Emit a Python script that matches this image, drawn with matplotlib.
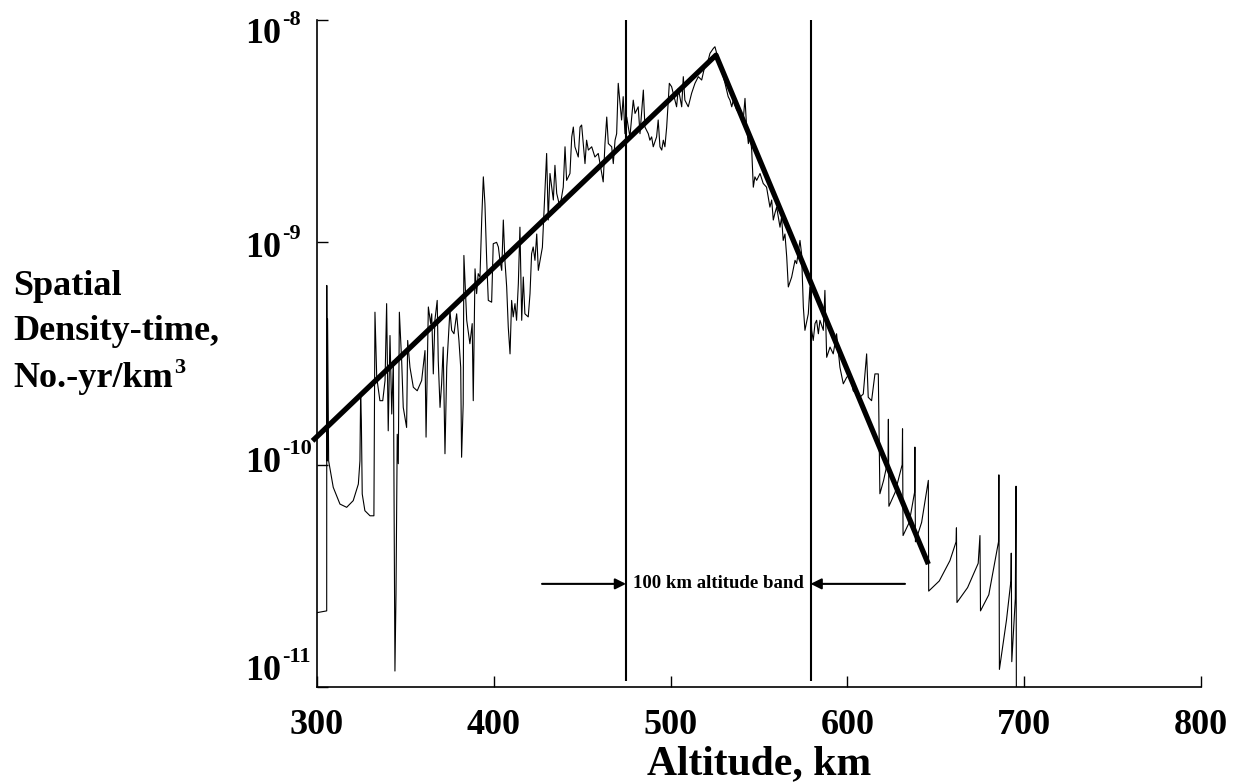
import matplotlib.pyplot as plt

# spatial density-time curve
altitude_km = [
    300.0, 305.5, 305.55, 305.8, 306.0, 306.6, 309.2, 313.0, 316.8, 320.5,
    323.4, 324.3, 324.7, 325.1, 325.6, 327.1, 330.0, 332.2, 332.8, 333.8,
    335.6, 337.2, 338.5, 339.4, 340.3, 341.3, 342.3, 343.2, 344.1, 344.7,
    345.4, 346.0, 346.6, 347.9, 348.8, 350.7, 351.3, 352.6, 354.5, 356.7,
    359.2, 361.1, 361.7, 363.0, 364.3, 364.9, 365.8, 366.7, 368.0, 368.6,
    369.6, 370.5, 371.4, 372.4, 373.4, 375.2, 376.2, 377.5, 379.0, 380.3,
    381.3, 381.8, 382.7, 383.1, 384.7, 386.5, 387.8, 388.4, 389.4, 390.3,
    391.2, 392.2, 393.2, 394.1, 395.0, 396.0, 396.9, 398.8, 399.7, 401.6,
    402.6, 403.5, 404.5, 405.4, 406.3, 407.3, 408.2, 409.2, 410.1, 411.0,
    412.0, 412.9, 413.9, 414.8, 415.8, 416.7, 417.6, 419.5, 420.5, 421.4,
    422.3, 423.3, 424.3, 425.2, 427.5, 429.9, 430.8, 431.8, 433.7, 434.6,
    435.6, 437.4, 439.3, 440.3, 441.2, 443.1, 444.1, 445.0, 445.9, 447.8,
    448.8, 449.7, 450.6, 451.6, 452.5, 453.5, 455.4, 457.2, 459.1, 460.1,
    461.9, 462.9, 463.9, 464.8, 466.7, 467.6, 468.6, 469.5, 470.4, 471.4,
    472.3, 473.2, 474.2, 475.2, 477.0, 478.9, 479.9, 481.7, 482.7, 484.6,
    485.5, 487.4, 488.3, 489.3, 490.2, 492.1, 493.0, 494.0, 495.0, 495.9,
    496.8, 497.8, 498.7, 499.3, 500.6, 501.5, 503.4, 504.4, 506.3, 507.2,
    508.1, 510.0, 511.9, 513.8, 515.7, 517.6, 519.5, 521.3, 522.3, 524.2,
    525.1, 526.1, 527.9, 529.8, 530.8, 531.7, 532.6, 533.6, 534.6, 535.5,
    537.4, 539.3, 541.1, 542.1, 543.0, 544.0, 544.9, 545.9, 546.8, 547.7,
    548.7, 550.6, 552.4, 554.3, 556.2, 557.2, 558.1, 559.0, 560.0, 561.9,
    562.8, 563.7, 564.7, 565.7, 566.6, 568.5, 570.4, 571.3, 573.2, 574.1,
    575.1, 576.0, 577.9, 578.8, 579.8, 580.7, 581.7, 582.6, 583.6, 584.5,
    586.4, 587.3, 588.3, 590.2, 592.0, 593.9, 595.8, 597.7, 599.6, 601.5,
    603.3, 605.2, 607.1, 609.0, 610.9, 611.8, 613.7, 615.6, 617.5, 618.4,
    620.5, 623.0, 623.2, 623.5, 627.0, 631.0, 631.2, 631.5, 635.0, 638.0,
    638.2, 638.5, 642.0, 645.8, 646.0, 652.0, 658.0, 661.5, 661.7, 662.0,
    668.0, 674.0, 675.0, 675.3, 680.0, 685.5, 685.7, 686.0, 690.0, 692.5,
    692.7, 693.0, 695.0, 695.4, 695.6,
]
density = [
    2.16e-11, 2.20e-11, 6.40e-10, 1.04e-10, 4.53e-10, 1.04e-10, 7.91e-11, 6.65e-11, 6.43e-11, 6.89e-11,
    8.18e-11, 1.04e-10, 2.08e-10, 1.58e-10, 7.38e-11, 6.21e-11, 5.89e-11, 5.89e-11, 4.85e-10, 2.47e-10,
    1.94e-10, 1.94e-10, 2.39e-10, 5.30e-10, 1.42e-10, 3.81e-10, 1.69e-10, 2.94e-10, 1.18e-11, 2.62e-11,
    1.37e-10, 1.01e-10, 4.85e-10, 2.94e-10, 1.81e-10, 1.47e-10, 3.62e-10, 2.74e-10, 2.23e-10, 2.15e-10,
    2.39e-10, 3.26e-10, 1.33e-10, 5.12e-10, 4.31e-10, 4.77e-10, 2.56e-10, 4.46e-10, 5.48e-10, 2.94e-10,
    1.81e-10, 2.31e-10, 3.38e-10, 1.12e-10, 2.74e-10, 4.94e-10, 4.02e-10, 3.88e-10, 4.77e-10, 3.62e-10,
    2.74e-10, 1.08e-10, 1.87e-10, 8.73e-10, 4.46e-10, 3.50e-10, 4.31e-10, 1.94e-10, 7.60e-10, 5.88e-10,
    7.23e-10, 6.98e-10, 1.28e-09, 1.97e-09, 1.49e-09, 8.30e-10, 5.48e-10, 5.38e-10, 9.86e-10, 1.00e-09,
    9.53e-10, 8.30e-10, 7.48e-10, 1.26e-09, 8.30e-10, 6.30e-10, 4.16e-10, 3.15e-10, 5.48e-10, 4.62e-10,
    5.30e-10, 4.46e-10, 6.52e-10, 1.17e-09, 4.46e-10, 6.98e-10, 4.77e-10, 4.62e-10, 5.88e-10, 8.89e-10,
    9.53e-10, 8.30e-10, 1.09e-09, 7.48e-10, 9.50e-10, 2.51e-09, 1.26e-09, 2.04e-09, 1.55e-09, 2.22e-09,
    1.66e-09, 1.44e-09, 1.77e-09, 2.69e-09, 1.90e-09, 2.04e-09, 2.98e-09, 3.30e-09, 2.69e-09, 2.42e-09,
    3.30e-09, 3.37e-09, 2.78e-09, 2.26e-09, 2.88e-09, 2.60e-09, 2.69e-09, 2.42e-09, 2.51e-09, 2.26e-09,
    1.87e-09, 2.78e-09, 3.66e-09, 2.78e-09, 2.69e-09, 2.26e-09, 2.88e-09, 3.08e-09, 5.19e-09, 4.22e-09,
    3.55e-09, 4.52e-09, 3.08e-09, 3.66e-09, 2.98e-09, 4.36e-09, 3.80e-09, 4.07e-09, 3.08e-09, 4.84e-09,
    3.30e-09, 3.08e-09, 2.88e-09, 2.98e-09, 2.69e-09, 2.98e-09, 3.55e-09, 2.69e-09, 2.60e-09, 2.88e-09,
    2.69e-09, 3.30e-09, 4.36e-09, 5.19e-09, 5.01e-09, 4.68e-09, 4.07e-09, 4.92e-09, 4.07e-09, 5.56e-09,
    4.36e-09, 4.07e-09, 4.68e-09, 5.19e-09, 5.56e-09, 5.37e-09, 6.27e-09, 6.60e-09, 7.08e-09, 7.45e-09,
    7.58e-09, 7.08e-09, 6.17e-09, 5.56e-09, 5.19e-09, 4.84e-09, 4.52e-09, 4.36e-09, 4.07e-09, 4.36e-09,
    3.94e-09, 3.80e-09, 3.55e-09, 4.44e-09, 3.30e-09, 2.78e-09, 3.08e-09, 2.60e-09, 1.77e-09, 1.97e-09,
    1.90e-09, 2.04e-09, 1.84e-09, 1.77e-09, 1.44e-09, 1.55e-09, 1.26e-09, 1.35e-09, 1.44e-09, 1.17e-09,
    1.30e-09, 1.02e-09, 1.09e-09, 8.59e-10, 6.30e-10, 6.98e-10, 8.30e-10, 8.02e-10, 1.02e-09, 8.89e-10,
    5.12e-10, 4.02e-10, 4.77e-10, 6.30e-10, 4.02e-10, 3.62e-10, 4.31e-10, 4.46e-10, 3.88e-10, 4.46e-10,
    4.02e-10, 6.08e-10, 3.04e-10, 3.38e-10, 3.15e-10, 3.88e-10, 2.74e-10, 2.31e-10, 2.47e-10, 2.56e-10,
    2.15e-10, 2.08e-10, 2.01e-10, 2.08e-10, 3.15e-10, 2.01e-10, 1.94e-10, 2.56e-10, 2.56e-10, 7.40e-11,
    8.50e-11, 1.05e-10, 1.60e-10, 6.50e-11, 7.50e-11, 1.00e-10, 1.45e-10, 4.80e-11, 5.50e-11, 7.50e-11,
    1.20e-10, 4.50e-11, 5.50e-11, 8.50e-11, 2.70e-11, 3.00e-11, 3.70e-11, 4.50e-11, 5.20e-11, 2.40e-11,
    2.80e-11, 3.60e-11, 4.80e-11, 2.20e-11, 2.60e-11, 4.50e-11, 9.00e-11, 1.20e-11, 2.00e-11, 3.00e-11,
    4.00e-11, 1.30e-11, 2.50e-11, 8.00e-11, 8.00e-12,
]

# piecewise log-linear fit (rise, peak, fall)
fit_altitude_km = [297.5, 525.7, 645.8]
fit_density = [1.28e-10, 6.95e-09, 3.57e-11]

# edges of the 100 km altitude band
band_altitude_km = [474.8, 579.2]
band_label = '100 km altitude band'
band_arrow_from_km = [427.3, 632.6]
band_arrow_density = 2.91e-11

x_ticks = [300, 400, 500, 600, 700, 800]
y_ticks = [1e-8, 1e-9, 1e-10, 1e-11]
y_tick_exponents = ['-8', '-9', '-10', '-11']

plt.rcParams['font.family'] = 'Liberation Serif'
plt.rcParams['font.weight'] = 'bold'

fig = plt.figure(figsize=(12.44, 7.84), dpi=100)
ax = fig.add_axes([0.2548, 0.1237, 0.7106, 0.8508])

ax.plot(altitude_km, density, color='black', linewidth=0.8)
ax.plot(
    fit_altitude_km, fit_density, color='black', linewidth=3.8,
    solid_capstyle='butt', clip_on=False
)

ax.vlines(band_altitude_km, 1.06e-11, 1e-8, color='black', linewidth=1.5)

# arrows pointing at the band edges
for start, end in zip(band_arrow_from_km, band_altitude_km):
    ax.annotate(
        '', xy=(end, band_arrow_density),
        xytext=(start, band_arrow_density),
        arrowprops=dict(
            arrowstyle='-|>', color='black', linewidth=1.5,
            mutation_scale=16, shrinkA=0, shrinkB=0
        )
    )
ax.text(
    sum(band_altitude_km) / 2, band_arrow_density, band_label,
    ha='center', va='center', fontsize=13.5, fontweight='bold'
)

ax.set_yscale('log')
ax.set_xlim(300, 800)
ax.set_ylim(1e-11, 1e-8)

ax.set_xticks(x_ticks)
ax.set_xticklabels([str(t) for t in x_ticks], fontsize=26, fontweight='bold')
ax.set_yticks(y_ticks)
ax.set_yticklabels([])
ax.minorticks_off()
ax.tick_params(direction='in', length=8, width=1, pad=16)

for side in ['top', 'right']:
    ax.spines[side].set_visible(False)
for side in ['left', 'bottom']:
    ax.spines[side].set_linewidth(1.2)

ax.set_xlabel('Altitude, km', fontsize=30, fontweight='bold', labelpad=2)


def superscript(base_text, sup, size, lift):
    # small raised text just right of the base text
    fig.canvas.draw()
    bbox = base_text.get_window_extent()
    x0, y0 = fig.transFigure.inverted().transform(
        (bbox.x1 + 1, bbox.y1 + lift)
    )
    return fig.text(x0, y0, sup, fontsize=size, fontweight='bold',
                    ha='left', va='top')


# y tick labels, left aligned as in the original
for exponent, baseline in zip(y_tick_exponents, [43, 257, 472, 680]):
    base = fig.text(
        245 / 1244, 1 - baseline / 784, '10',
        ha='left', va='baseline', fontsize=26
    )
    superscript(base, exponent, 16, 8)

# y axis title in three lines
for line, baseline in zip(
        ['Spatial', 'Density-time,', 'No.-yr/km'], [295, 340, 387]
):
    last = fig.text(
        13 / 1244, 1 - baseline / 784, line,
        ha='left', va='baseline', fontsize=26, fontweight='bold'
    )
superscript(last, '3', 16, 4)

fig.savefig('out.png', dpi=100)
plt.close()
